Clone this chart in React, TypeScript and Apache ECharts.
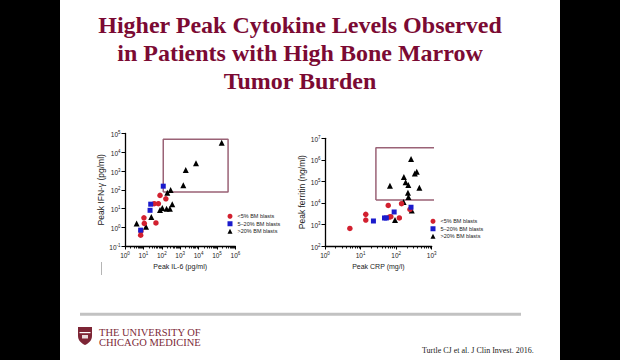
import React, { useEffect, useRef } from "react";
import * as echarts from "echarts";

const TITLE_LINES = [
  "Higher Peak Cytokine Levels Observed",
  "in Patients with High Bone Marrow",
  "Tumor Burden",
];
const GROUP_NAMES = ["<5% BM blasts", "5–20% BM blasts", ">20% BM blasts"];
const GROUP_COLORS = ["#d2202f", "#1b1bcc", "#000000"];
const GROUP_SYMBOLS = ["circle", "rect", "triangle"];
const GROUP_SIZES = [5.5, 5, 6];

// Left panel: [Peak IL-6 (pg/ml), Peak IFN-γ (pg/ml)]
const IL6_IFN_LOW = [
  [7.1, 0.38], [7.4, 0.63], [10.7, 3.2], [11.2, 1.6], [39, 18],
  [48, 1.7], [65, 18], [80, 50], [166, 33],
];
const IL6_IFN_MID = [[7.1, 0.7], [23, 8], [25, 17], [120, 155]];
const IL6_IFN_HIGH = [
  [4.3, 1.6], [13.8, 1.07], [27, 3.5], [80, 8.3], [107, 10.7], [182, 9.8],
  [275, 9.8], [370, 17], [200, 69], [302, 97], [1480, 174], [2000, 1120],
  [7200, 2570], [180000, 32000],
];
const LEFT_BOX_X = [120, 400000];
const LEFT_BOX_Y = [76, 49000];

// Right panel: [Peak CRP (mg/l), Peak ferritin (ng/ml)]
const CRP_FER_LOW = [
  [5, 650], [14, 2950], [14, 1600], [60, 7600], [64, 2200], [71, 2300],
  [123, 2000], [142, 9200], [245, 5000],
];
const CRP_FER_MID = [[23, 1450], [47, 2000], [53, 2000], [88, 3800], [262, 6300]];
const CRP_FER_HIGH = [
  [67, 62000], [165, 160000], [185, 92000], [220, 68000], [263, 1080000],
  [335, 230000], [380, 280000], [450, 51000], [215, 30000], [222, 19000],
  [162, 11000], [93, 1600], [275, 4400],
];
const RIGHT_BOX_X = [27, 1700];
const RIGHT_BOX_Y = [13500, 3600000];

const LEFT_X_RANGE = [1, 1e6];
const LEFT_Y_RANGE = [0.1, 1e5];
const RIGHT_X_RANGE = [1, 1e3];
const RIGHT_Y_RANGE = [100, 1e7];

const LEFT_X_NAME = "Peak IL-6 (pg/ml)";
const LEFT_Y_NAME = "Peak IFN-γ (pg/ml)";
const RIGHT_X_NAME = "Peak CRP (mg/l)";
const RIGHT_Y_NAME = "Peak ferritin (ng/ml)";

const LOGO_LINES = ["THE UNIVERSITY OF", "CHICAGO MEDICINE"];
const CITATION = "Turtle CJ et al. J Clin Invest. 2016.";

const FONT = "Liberation Sans";
const SERIF = "Liberation Serif";
const BOX_COLOR = "#9a6276";
const TITLE_COLOR = "#7b0a33";

function minorPositions(decades: number): number[] {
  const out: number[] = [];
  for (let k = 0; k < decades; k++) {
    for (let m = 2; m <= 9; m++) out.push(k + Math.log10(m));
  }
  return out;
}

function boxPoints(xs: number[], ys: number[]) {
  return [
    [xs[0], ys[0]], [xs[1], ys[0]], [xs[1], ys[1]], [xs[0], ys[1]], [xs[0], ys[0]],
  ];
}

const powLabel = (v: number) => `{b|10}{s|${Math.round(Math.log10(v))}}`;
const tickRich = {
  b: { fontSize: 6.5, lineHeight: 7, padding: [2, 0, 0, 0], fontFamily: FONT, color: "#222" },
  s: { fontSize: 4.5, lineHeight: 5, verticalAlign: "top", fontFamily: FONT, color: "#222" },
};

function mainAxis(gridIndex: number, range: number[], name: string, isY: boolean) {
  return {
    type: "log",
    logBase: 10,
    gridIndex,
    min: range[0],
    max: range[1],
    name,
    nameLocation: "middle",
    nameGap: isY ? 15.5 : 17,
    nameRotate: isY ? 90 : 0,
    nameTextStyle: { fontFamily: FONT, fontSize: isY ? 8.5 : 7, color: "#222" },
    axisLine: { show: true, lineStyle: { color: "#000", width: 1.3 } },
    axisTick: { show: true, length: 3.5, inside: false, lineStyle: { color: "#000", width: 1 } },
    axisLabel: { formatter: powLabel, rich: tickRich, margin: 4.5 },
    splitLine: { show: false },
    minorTick: { show: false },
  };
}

function minorAxis(gridIndex: number, decades: number) {
  return {
    type: "value",
    gridIndex,
    min: 0,
    max: decades,
    position: "bottom",
    axisLine: { show: false },
    axisLabel: { show: false },
    splitLine: { show: false },
    axisTick: {
      show: true,
      length: 2.5,
      customValues: minorPositions(decades),
      lineStyle: { color: "#000", width: 0.9 },
    },
  };
}

function scatter(name: string, data: number[][], idx: number, xAxisIndex: number, yAxisIndex: number) {
  return {
    type: "scatter",
    name,
    data,
    xAxisIndex,
    yAxisIndex,
    symbol: GROUP_SYMBOLS[idx],
    symbolSize: GROUP_SIZES[idx],
    itemStyle: { color: GROUP_COLORS[idx], opacity: 1 },
    z: idx === 1 ? 5 : 4,
  };
}

function legend(left: number, top: number) {
  return {
    data: GROUP_NAMES,
    orient: "vertical",
    left,
    top,
    padding: 0,
    itemWidth: 5,
    itemHeight: 5,
    itemGap: 1.5,
    selectedMode: false,
    itemStyle: { opacity: 1 },
    textStyle: { fontSize: 5.5, lineHeight: 5.5, fontFamily: FONT, color: "#222" },
  };
}

export default function App() {
  const ref = useRef<HTMLDivElement>(null);

  useEffect(() => {
    if (!ref.current) return;
    echarts.graphic.registerShape(
      "shield",
      echarts.graphic.extendPath("M0 0 L14 0 L14 9 C14 14 10 16.5 7 18 C4 16.5 0 14 0 9 Z", {})
    );
    const chart = echarts.init(ref.current, null, { renderer: "svg" });

    const option = {
      animation: false,
      backgroundColor: "#ffffff",
      grid: [
        { left: 125, top: 133.5, width: 110.4, height: 112.5, outerBoundsMode: "none" },
        { left: 325, top: 138.3, width: 106.7, height: 107.7, outerBoundsMode: "none" },
      ],
      xAxis: [
        mainAxis(0, LEFT_X_RANGE, LEFT_X_NAME, false),
        minorAxis(0, 6),
        mainAxis(1, RIGHT_X_RANGE, RIGHT_X_NAME, false),
        minorAxis(1, 3),
      ],
      yAxis: [
        mainAxis(0, LEFT_Y_RANGE, LEFT_Y_NAME, true),
        mainAxis(1, RIGHT_Y_RANGE, RIGHT_Y_NAME, true),
      ],
      legend: [legend(227.5, 213.25), legend(430.5, 218.25)],
      series: [
        {
          type: "line",
          data: boxPoints(LEFT_BOX_X, LEFT_BOX_Y),
          xAxisIndex: 0,
          yAxisIndex: 0,
          symbol: "none",
          clip: false,
          silent: true,
          lineStyle: { color: BOX_COLOR, width: 1.5 },
          z: 1,
        },
        {
          type: "line",
          data: boxPoints(RIGHT_BOX_X, RIGHT_BOX_Y),
          xAxisIndex: 2,
          yAxisIndex: 1,
          symbol: "none",
          clip: false,
          silent: true,
          lineStyle: { color: BOX_COLOR, width: 1.5 },
          z: 1,
        },
        scatter(GROUP_NAMES[2], IL6_IFN_HIGH, 2, 0, 0),
        scatter(GROUP_NAMES[0], IL6_IFN_LOW, 0, 0, 0),
        scatter(GROUP_NAMES[1], IL6_IFN_MID, 1, 0, 0),
        scatter(GROUP_NAMES[2], CRP_FER_HIGH, 2, 2, 1),
        scatter(GROUP_NAMES[0], CRP_FER_LOW, 0, 2, 1),
        scatter(GROUP_NAMES[1], CRP_FER_MID, 1, 2, 1),
      ],
      graphic: [
        { type: "rect", shape: { x: 0, y: 0, width: 60, height: 360 }, style: { fill: "#000" }, z: 0 },
        { type: "rect", shape: { x: 560, y: 0, width: 60, height: 360 }, style: { fill: "#000" }, z: 0 },
        ...TITLE_LINES.map((t, i) => ({
          type: "text",
          x: 300,
          y: 24.7 + i * 28.3,
          style: {
            text: t,
            fontFamily: SERIF,
            fontWeight: "bold",
            fontSize: 24,
            fill: TITLE_COLOR,
            align: "center",
            verticalAlign: "middle",
          },
        })),
        {
          type: "line",
          shape: { x1: 80, y1: 314.3, x2: 521, y2: 314.3 },
          style: { stroke: "#c2c2c2", lineWidth: 3 },
        },
        {
          type: "line",
          shape: { x1: 101.5, y1: 262, x2: 101.5, y2: 275 },
          style: { stroke: "#b5b5b5", lineWidth: 1 },
        },
        {
          type: "group",
          x: 78,
          y: 327,
          children: [
            { type: "shield", x: 0, y: 0, style: { fill: "#7d2535" } },
            { type: "rect", shape: { x: 1.5, y: 5, width: 11, height: 1.2 }, style: { fill: "#ffffff" } },
            { type: "rect", shape: { x: 4, y: 8, width: 6, height: 3.5 }, style: { fill: "#e8d9dc" } },
          ],
        },
        ...LOGO_LINES.map((t, i) => ({
          type: "text",
          x: 99,
          y: 332.5 + i * 10,
          style: {
            text: t,
            fontFamily: SERIF,
            fontSize: 10.5,
            fill: "#7d2a38",
            align: "left",
            verticalAlign: "middle",
          },
        })),
        {
          type: "text",
          x: 422,
          y: 350,
          style: {
            text: CITATION,
            fontFamily: SERIF,
            fontSize: 8,
            fill: "#222",
            align: "left",
            verticalAlign: "middle",
          },
        },
      ],
    };

    chart.setOption(option as any);
    return () => chart.dispose();
  }, []);

  return (
    <div
      ref={ref}
      style={{ position: "fixed", left: 0, top: 0, width: 620, height: 360, background: "#fff" }}
    />
  );
}
